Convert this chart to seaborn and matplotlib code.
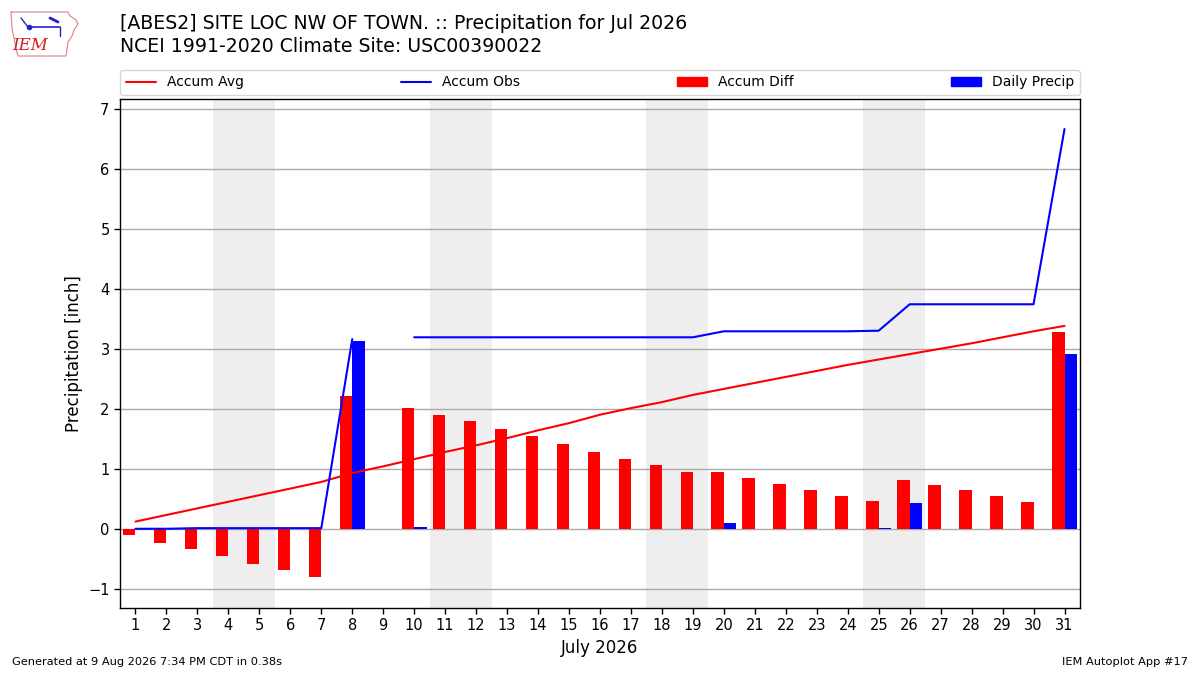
import numpy as np
import pandas as pd
import matplotlib
matplotlib.use("Agg")
import matplotlib.pyplot as plt
import seaborn as sns
from matplotlib.lines import Line2D
from matplotlib.patches import Patch

# ---- data ----
days = list(range(1, 32))
accum_avg = [0.12, 0.23, 0.34, 0.45, 0.56, 0.67, 0.78, 0.93, 1.04, 1.16, 1.28,
             1.39, 1.51, 1.64, 1.76, 1.90, 2.01, 2.11, 2.23, 2.33, 2.43, 2.53,
             2.63, 2.73, 2.82, 2.91, 3.00, 3.09, 3.19, 3.29, 3.38]
accum_obs = [0.00, 0.00, 0.01, 0.01, 0.01, 0.01, 0.01, 3.16, np.nan, 3.19, 3.19,
             3.19, 3.19, 3.19, 3.19, 3.19, 3.19, 3.19, 3.19, 3.29, 3.29, 3.29,
             3.29, 3.29, 3.30, 3.74, 3.74, 3.74, 3.74, 3.74, 6.66]
accum_diff = [-0.11, -0.23, -0.33, -0.46, -0.58, -0.68, -0.81, 2.22, np.nan, 2.02,
              1.90, 1.79, 1.67, 1.54, 1.42, 1.28, 1.17, 1.07, 0.95, 0.95, 0.85,
              0.75, 0.65, 0.55, 0.47, 0.82, 0.73, 0.65, 0.55, 0.45, 3.27]
daily_precip = [0.00, 0.00, 0.00, 0.00, 0.00, 0.00, 0.00, 3.13, np.nan, 0.03,
                0.00, 0.00, 0.00, 0.00, 0.00, 0.00, 0.00, 0.00, 0.00, 0.10, 0.00,
                0.00, 0.00, 0.00, 0.02, 0.43, 0.00, 0.00, 0.00, 0.00, 2.92]
weekend_starts = [4, 11, 18, 25]   # Saturdays of July 2026

title_lines = ["[ABES2] SITE LOC NW OF TOWN. :: Precipitation for Jul 2026",
               "NCEI 1991-2020 Climate Site: USC00390022"]
footer_left = "Generated at 9 Aug 2026 7:34 PM CDT in 0.38s"
footer_right = "IEM Autoplot App #17"

sns.set_style("ticks", {"axes.edgecolor": "black", "text.color": "black",
                        "axes.labelcolor": "black", "xtick.color": "black",
                        "ytick.color": "black"})
plt.rcParams['font.family'] = ['DejaVu Sans']

fig = plt.figure(figsize=(12, 6.75), dpi=100)
ax = fig.add_axes([0.1, 1 - 608 / 675, 0.8, 509 / 675])

for s in weekend_starts:
    ax.axvspan(s - 0.5, s + 1.5, color="#eeeeee", zorder=0, lw=0)

bars = pd.DataFrame({
    "day": days * 2,
    "value": accum_diff + daily_precip,
    "series": ["Accum Diff"] * 31 + ["Daily Precip"] * 31,
})
sns.barplot(data=bars, x="day", y="value", hue="series", native_scale=True,
            hue_order=["Accum Diff", "Daily Precip"],
            palette={"Accum Diff": "red", "Daily Precip": "blue"},
            errorbar=None, width=0.8, saturation=1, legend=False, ax=ax,
            linewidth=0, edgecolor="none", zorder=2)

lines = pd.DataFrame({"day": days, "avg": accum_avg, "obs": accum_obs})
sns.lineplot(data=lines, x="day", y="avg", color="red", ax=ax, zorder=3, lw=1.5)
obs_a = lines[lines["day"] <= 8]
obs_b = lines[lines["day"] >= 10]
sns.lineplot(data=obs_a, x="day", y="obs", color="blue", ax=ax, zorder=3, lw=1.5)
sns.lineplot(data=obs_b, x="day", y="obs", color="blue", ax=ax, zorder=3, lw=1.5)

ax.set_xlim(0.5, 31.5)
ax.set_ylim(-1.32, 7.16)
ax.set_xticks(days)
ax.set_xticklabels([str(d) for d in days], fontsize=10.5)
ax.set_yticks(range(-1, 8))
ax.tick_params(axis="y", labelsize=10.5)
ax.tick_params(axis="both", direction="out", length=4, width=1, left=True, bottom=True)
ax.yaxis.grid(True, color="#aaaaaa", lw=1, zorder=1)
ax.set_axisbelow(True)
for sp in ax.spines.values():
    sp.set_visible(True)
    sp.set_color("black")
    sp.set_linewidth(1)
ax.set_xlabel("July 2026", fontsize=12)
ax.set_ylabel("Precipitation [inch]", fontsize=12)

handles = [Line2D([], [], color="red", lw=1.5),
           Line2D([], [], color="blue", lw=1.5),
           Patch(color="red"), Patch(color="blue")]
labels = ["Accum Avg", "Accum Obs", "Accum Diff", "Daily Precip"]
ax.legend(handles, labels, loc="lower left", bbox_to_anchor=(0, 1.008, 1, 0.05),
          ncol=4, mode="expand", fontsize=10, frameon=True, borderaxespad=0,
          handlelength=2.2)

fig.text(0.1, 1 - 14 / 675, "\n".join(title_lines), fontsize=13.6, va="top",
         ha="left", linespacing=1.3)
fig.text(0.01, 0.012, footer_left, fontsize=8.2, ha="left", va="bottom")
fig.text(0.99, 0.012, footer_right, fontsize=8.2, ha="right", va="bottom")

# small IEM logo
lax = fig.add_axes([8 / 1200, 1 - 58 / 675, 72 / 1200, 50 / 675])
lax.set_xlim(0, 72)
lax.set_ylim(0, 50)
lax.axis("off")
ox = [3, 60, 62, 68, 70, 66, 64, 60, 58, 10, 8, 6, 4, 3]
oy = [46, 46, 42, 38, 34, 28, 22, 16, 2, 2, 10, 20, 30, 46]
lax.plot(ox, oy, color="#e08080", lw=0.8)
lax.text(22, 12, "IEM", color="#cc2222", fontsize=12, fontstyle="italic",
         family="DejaVu Serif", ha="center", va="center")
lax.plot([20, 52], [31, 31], color="#2222cc", lw=1.2)
lax.plot([42, 50], [40, 36], color="#2222cc", lw=2)
lax.plot([52, 52], [31, 22], color="#2222cc", lw=1)
lax.plot([13, 20], [40, 31], color="#2222cc", lw=1)
lax.plot([21], [31], "o", color="#2222cc", ms=3)

fig.savefig("out.png", dpi=100)
